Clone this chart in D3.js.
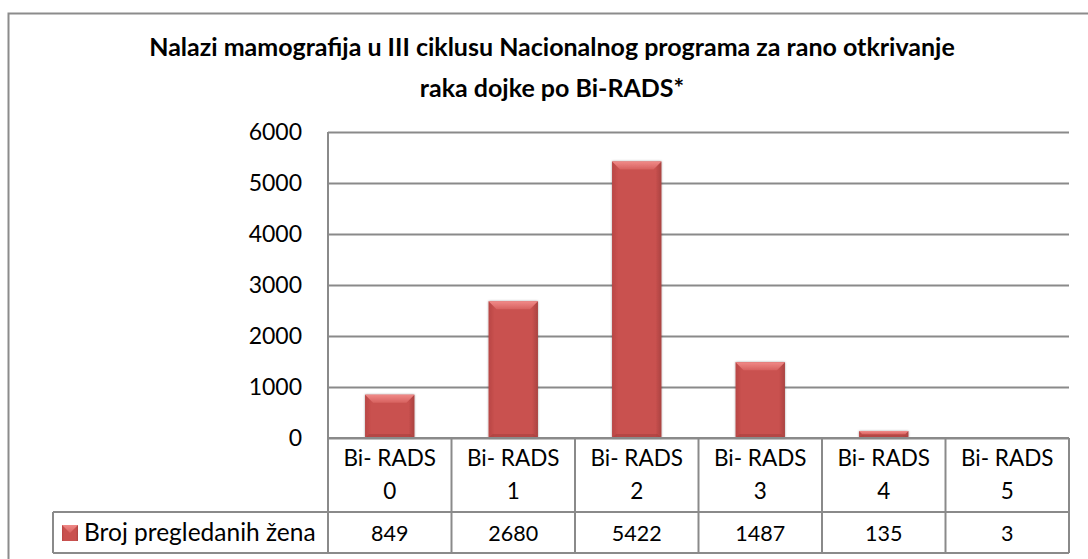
<!DOCTYPE html>
<html>
<head>
<meta charset="utf-8">
<script src="https://cdn.jsdelivr.net/npm/d3@7"></script>
<style>
  body { margin: 0; background: #fff; }
  svg { display: block; font-family: Lato, "Open Sans", sans-serif; }
</style>
</head>
<body>
<div id="chart"></div>
<script>
// data
const categories = ["Bi- RADS 0", "Bi- RADS 1", "Bi- RADS 2", "Bi- RADS 3", "Bi- RADS 4", "Bi- RADS 5"];
const values = [849, 2680, 5422, 1487, 135, 3];
const seriesName = "Broj pregledanih žena";
const yTicks = [0, 1000, 2000, 3000, 4000, 5000, 6000];
const titleLines = ["Nalazi mamografija u III ciklusu Nacionalnog programa za rano otkrivanje",
                    "raka dojke po Bi-RADS*"];

const W = 1088, H = 559;
const plot = {left: 328, right: 1069, top: 132, bottom: 438};
const rowCat = 74, rowVal = 41;
const legendLeft = 53;
const grid = "#8a8a8a";

const svg = d3.select("#chart")
    .append("svg")
    .attr("width", W)
    .attr("height", H);

const defs = svg.append("defs");
const main = defs.append("linearGradient").attr("id", "barFill").attr("x1", 0).attr("x2", 1).attr("y1", 0).attr("y2", 0);
main.append("stop").attr("offset", "0%").attr("stop-color", "#b84644");
main.append("stop").attr("offset", "12%").attr("stop-color", "#c9514f");
main.append("stop").attr("offset", "88%").attr("stop-color", "#c9514f");
main.append("stop").attr("offset", "100%").attr("stop-color", "#a94240");
const topG = defs.append("linearGradient").attr("id", "barTop").attr("x1", 0).attr("x2", 0).attr("y1", 0).attr("y2", 1);
topG.append("stop").attr("offset", "0%").attr("stop-color", "#f08a88");
topG.append("stop").attr("offset", "100%").attr("stop-color", "#d7615f");
const shadow = defs.append("filter").attr("id", "shadow").attr("x", "-20%").attr("y", "-20%").attr("width", "140%").attr("height", "140%");
shadow.append("feDropShadow").attr("dx", 0).attr("dy", 0).attr("stdDeviation", 1.2).attr("flood-color", "#000").attr("flood-opacity", 0.35);

// outer chart border (runs off the picture at right and bottom)
svg.append("rect")
    .attr("x", 8.5).attr("y", 13.5)
    .attr("width", W).attr("height", H)
    .attr("fill", "none").attr("stroke", "#8c8c8c").attr("stroke-width", 2);

// title
svg.append("text")
    .attr("x", 552).attr("y", 56)
    .attr("text-anchor", "middle")
    .attr("font-weight", "bold").attr("font-size", 25)
    .selectAll("tspan").data(titleLines).join("tspan")
    .attr("x", 552).attr("dy", (d, i) => i ? 41 : 0)
    .text(d => d);

const x = d3.scaleBand().domain(categories).range([plot.left, plot.right]).paddingInner(0.6).paddingOuter(0.3);
const xCol = d3.scaleBand().domain(categories).range([plot.left, plot.right]);
const y = d3.scaleLinear().domain([0, 6000]).range([plot.bottom, plot.top]);

// gridlines
svg.append("g")
    .attr("transform", `translate(${plot.left},0)`)
    .call(d3.axisLeft(y).tickValues(yTicks).tickSize(-(plot.right - plot.left)).tickFormat(""))
    .call(g => g.select(".domain").remove())
    .call(g => g.selectAll("line").attr("stroke", grid).attr("stroke-width", 2));

// y labels
svg.append("g")
    .attr("transform", `translate(${plot.left},0)`)
    .call(d3.axisLeft(y).tickValues(yTicks).tickSize(0).tickPadding(26).tickFormat(d3.format("d")))
    .call(g => g.select(".domain").remove())
    .call(g => g.selectAll("text").attr("font-family", "Lato").attr("font-size", 23).attr("fill", "#000"));

svg.append("line")
    .attr("x1", plot.left).attr("x2", plot.left)
    .attr("y1", plot.top).attr("y2", plot.bottom)
    .attr("stroke", grid).attr("stroke-width", 2);

// bars with bevel
const bar = svg.append("g").selectAll("g").data(values).join("g")
    .attr("filter", "url(#shadow)");
bar.each(function(v, i) {
  const g = d3.select(this);
  const x0 = x(categories[i]), w = x.bandwidth();
  const y0 = y(v), h = y(0) - y(v);
  g.append("rect").attr("x", x0).attr("y", y0).attr("width", w).attr("height", h).attr("fill", "url(#barFill)");
  const b = Math.min(8, h / 2);
  g.append("path")
      .attr("d", `M${x0},${y0}H${x0 + w}L${x0 + w - b},${y0 + b}H${x0 + b}Z`)
      .attr("fill", "url(#barTop)");
  const bb = Math.min(4, h / 2);
  g.append("path")
      .attr("d", `M${x0},${y0 + h}H${x0 + w}L${x0 + w - bb},${y0 + h - bb}H${x0 + bb}Z`)
      .attr("fill", "#a8403e").attr("opacity", 0.6);
});

// data table
const table = svg.append("g").attr("stroke", grid).attr("stroke-width", 2).attr("fill", "none");
const tb = plot.bottom + rowCat + rowVal;
table.append("line").attr("x1", plot.left).attr("x2", plot.right).attr("y1", plot.bottom).attr("y2", plot.bottom);
table.append("line").attr("x1", legendLeft).attr("x2", plot.right).attr("y1", plot.bottom + rowCat).attr("y2", plot.bottom + rowCat);
table.append("line").attr("x1", legendLeft).attr("x2", plot.right).attr("y1", tb).attr("y2", tb);
table.append("line").attr("x1", legendLeft).attr("x2", legendLeft).attr("y1", plot.bottom + rowCat).attr("y2", tb);
table.selectAll(".col").data(categories.concat(["end"])).join("line")
    .attr("x1", (d, i) => plot.left + i * xCol.bandwidth())
    .attr("x2", (d, i) => plot.left + i * xCol.bandwidth())
    .attr("y1", plot.bottom).attr("y2", tb);

const catText = svg.append("g").attr("font-size", 22.5).attr("text-anchor", "middle");
catText.selectAll("text").data(categories).join("text")
    .attr("x", d => xCol(d) + xCol.bandwidth() / 2)
    .attr("y", plot.bottom + 28)
    .selectAll("tspan").data(d => [d.slice(0, d.lastIndexOf(" ")), d.slice(d.lastIndexOf(" ") + 1)]).join("tspan")
    .attr("x", function() { return this.parentNode.getAttribute("x"); })
    .attr("dy", (d, i) => i ? 33 : 0)
    .text(d => d);

svg.append("g").attr("font-size", 21.5).attr("text-anchor", "middle")
    .selectAll("text").data(values).join("text")
    .attr("x", (d, i) => xCol(categories[i]) + xCol.bandwidth() / 2)
    .attr("y", plot.bottom + rowCat + 29)
    .text(d => d);

// legend key
const k = {x: 62, y: 525, s: 16};
svg.append("rect").attr("x", k.x).attr("y", k.y).attr("width", k.s).attr("height", k.s).attr("fill", "url(#barFill)");
svg.append("path")
    .attr("d", `M${k.x},${k.y}H${k.x + k.s}L${k.x + k.s / 2},${k.y + k.s / 2}Z`)
    .attr("fill", "url(#barTop)");
svg.append("text")
    .attr("x", 84).attr("y", plot.bottom + rowCat + 29)
    .attr("font-size", 24.5)
    .text(seriesName);
</script>
</body>
</html>
